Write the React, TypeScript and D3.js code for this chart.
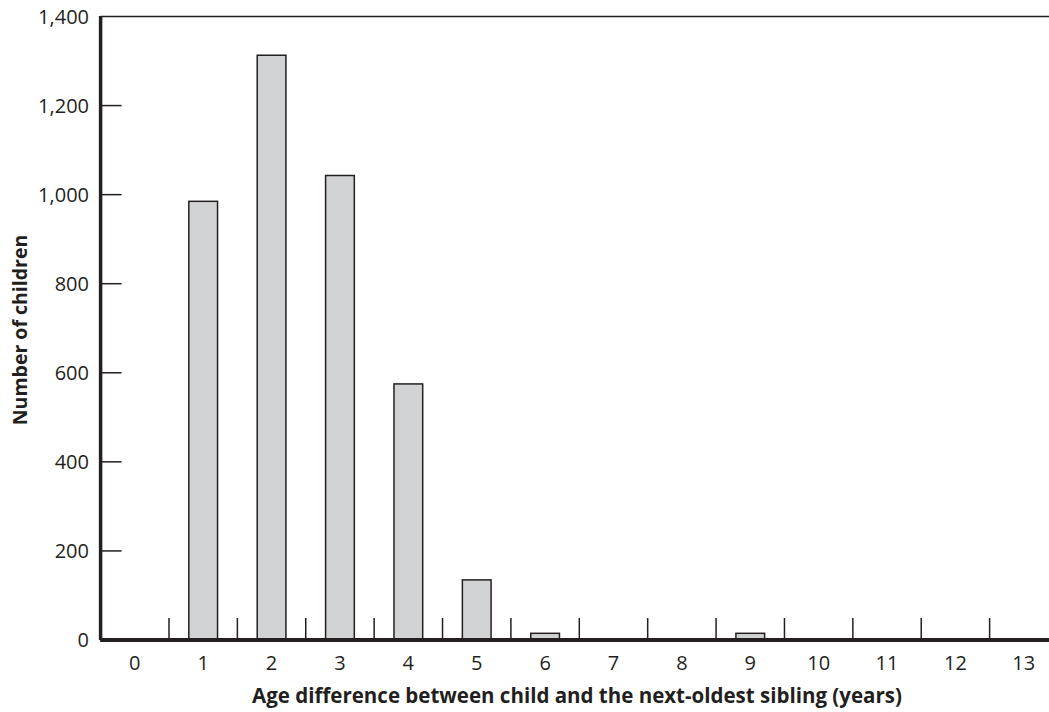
import React from "react";
import * as d3 from "d3";

const categories = ["0", "1", "2", "3", "4", "5", "6", "7", "8", "9", "10", "11", "12", "13"];
const counts = [0, 985, 1313, 1043, 575, 135, 15, 0, 0, 15, 0, 0, 0, 0];
const yTicks = [0, 200, 400, 600, 800, 1000, 1200, 1400];
const xTitle = "Age difference between child and the next-oldest sibling (years)";
const yTitle = "Number of children";

const W = 1049;
const H = 712;
const left = 100.6;
const right = 1058;
const top = 16.5;
const bottom = 640;
const FONT = "'Open Sans', 'Noto Sans', sans-serif";

export default function App() {
  const x = d3.scaleBand<string>().domain(categories).range([left, right]).paddingInner(0).paddingOuter(0);
  const y = d3.scaleLinear().domain([0, 1400]).range([bottom, top]);
  const bw = x.bandwidth();
  const barW = bw * 0.42;

  return (
    <svg width={W} height={H} style={{ position: "absolute", left: 0, top: 0, background: "#fff" }}>
      <line x1={left} x2={W} y1={y(1400)} y2={y(1400)} stroke="#231f20" strokeWidth={1.6} />
      {yTicks.map((t) => (
        <g key={t}>
          {t > 0 && t < 1400 && (
            <line x1={left} x2={left + 21} y1={y(t)} y2={y(t)} stroke="#231f20" strokeWidth={1.5} />
          )}
          <text x={89} y={y(t)} dy="0.36em" textAnchor="end" fontFamily={FONT} fontSize={20} fill="#231f20">
            {d3.format(",")(t)}
          </text>
        </g>
      ))}
      {categories.map((c, i) =>
        counts[i] > 0 ? (
          <rect
            key={c}
            x={(x(c) as number) + bw / 2 - barW / 2}
            y={y(counts[i])}
            width={barW}
            height={y(0) - y(counts[i])}
            fill="#d1d2d4"
            stroke="#231f20"
            strokeWidth={1.5}
          />
        ) : null
      )}
      {categories.slice(1).map((c) => (
        <line
          key={"t" + c}
          x1={x(c) as number}
          x2={x(c) as number}
          y1={bottom}
          y2={bottom - 22}
          stroke="#231f20"
          strokeWidth={1.5}
        />
      ))}
      {categories.map((c) => (
        <text
          key={"l" + c}
          x={(x(c) as number) + bw / 2}
          y={670}
          textAnchor="middle"
          fontFamily={FONT}
          fontSize={20}
          fill="#231f20"
        >
          {c}
        </text>
      ))}
      <line x1={left - 0.5} x2={W} y1={bottom} y2={bottom} stroke="#231f20" strokeWidth={4} />
      <line x1={left} x2={left} y1={y(1400) - 0.5} y2={bottom} stroke="#231f20" strokeWidth={3.5} />
      <text x={577} y={703} textAnchor="middle" fontFamily={FONT} fontSize={20.5} fontWeight="bold" fill="#231f20">
        {xTitle}
      </text>
      <text
        transform={`translate(27, 330) rotate(-90)`}
        textAnchor="middle"
        fontFamily={FONT}
        fontSize={19.5}
        fontWeight="bold"
        fill="#231f20"
      >
        {yTitle}
      </text>
    </svg>
  );
}
